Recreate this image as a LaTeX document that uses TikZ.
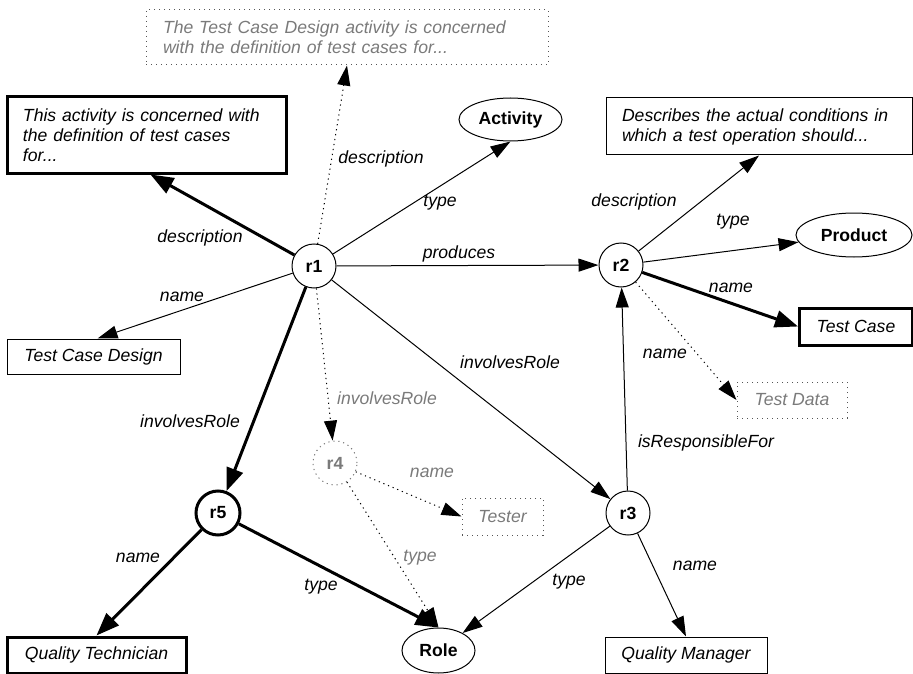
\documentclass[tikz,border=0pt]{standalone}
\usepackage{fontspec}
\setmainfont{Liberation Sans}
\usetikzlibrary{arrows.meta,shapes.geometric,calc}
\definecolor{ghost}{HTML}{7A7A7A}
\begin{document}
\begin{tikzpicture}[x=1pt,y=-1pt,
  every node/.style={font=\fontsize{17.6}{20}\selectfont},
  res/.style={circle,draw,line width=1pt,minimum size=44pt,inner sep=0pt,
    font=\fontsize{17.6}{20}\selectfont\bfseries},
  resthick/.style={res,line width=3pt},
  resghost/.style={res,draw=ghost,text=ghost,dash pattern=on 1.2pt off 3.8pt},
  cls/.style={ellipse,draw,line width=1pt,inner sep=0pt,
    font=\fontsize{17.6}{20}\selectfont\bfseries},
  lit/.style={rectangle,draw,line width=1pt,inner sep=0pt,
    font=\fontsize{17.6}{20}\selectfont\itshape},
  litthick/.style={lit,line width=3pt},
  litghost/.style={lit,draw=ghost!70!black,text=ghost,dash pattern=on 1.2pt off 3.8pt},
  rel/.style={draw,line width=1pt,-{Triangle[length=20pt,width=13pt]}},
  relthick/.style={draw,line width=3pt,-{Triangle[length=23pt,width=17pt]}},
  relghost/.style={rel,dash pattern=on 1.2pt off 3.8pt},
  lbl/.style={font=\fontsize{17.6}{20}\selectfont\itshape,inner sep=0pt},
  lblghost/.style={lbl,text=ghost}
]
\useasboundingbox (0,0) rectangle (913,674);

% resources
\node[res]      (r1) at (314,266) {r1};
\node[res]      (r2) at (621,265) {r2};
\node[res]      (r3) at (628,513) {r3};
\node[resghost] (r4) at (335,463) {r4};
\node[resthick] (r5) at (218,513) {r5};

% classes
\node[cls,minimum width=103pt,minimum height=43pt] (activity) at (510.5,119.5) {Activity};
\node[cls,minimum width=116pt,minimum height=44pt] (product)  at (854,235)     {Product};
\node[cls,minimum width=73pt,minimum height=45pt]  (role)     at (438.5,650.5) {Role};

% literals
\node[litghost,minimum width=402pt,minimum height=55pt,text width=368pt,align=left]
  (desc0) at (347,37.5) {The Test Case Design activity is concerned\\with the definition of test cases for...};
\node[litthick,minimum width=279pt,minimum height=76pt,text width=247pt,align=left]
  (desc1) at (146.5,135) {This activity is concerned with\\the definition of test cases\\for...};
\node[lit,minimum width=306pt,minimum height=57pt,text width=274pt,align=left]
  (desc2) at (759,126.5) {Describes the actual conditions in\\which a test operation should...};
\node[lit,minimum width=173pt,minimum height=35pt]      (tcd)    at (93.5,356.5) {Test Case Design};
\node[litthick,minimum width=113pt,minimum height=37pt] (tc)     at (856,326.5)  {Test Case};
\node[litghost,minimum width=110pt,minimum height=36pt] (td)     at (792,400)    {Test Data};
\node[litghost,minimum width=81pt,minimum height=37pt]  (tester) at (502.5,516.5){Tester};
\node[lit,minimum width=162pt,minimum height=36pt]      (qm)     at (686,655)    {Quality Manager};
\node[litthick,minimum width=179pt,minimum height=36pt] (qt)     at (96.5,655)   {Quality Technician};

% properties
\draw[relghost] (r1) -- (desc0.south);
\draw[relthick] (r1) -- ($(desc1.south)+(4,0)$);
\draw[rel]      (r1) -- (activity.south);
\draw[rel]      (r1) -- (r2);
\draw[rel]      (r1) -- ($(tcd.north)+(4,0)$);
\draw[relthick] (r1) -- (r5);
\draw[relghost] (r1) -- (r4);
\draw[rel]      (r1) -- (r3);
\draw[rel]      (r2) -- (desc2.south);
\draw[rel]      (r2) -- (product);
\draw[relthick] (r2) -- (tc.west);
\draw[relghost] (r2) -- (td.west);
\draw[rel]      (r3) -- (r2);
\draw[rel]      (r3) -- (role);
\draw[rel]      (r3) -- (qm.north);
\draw[relghost] (r4) -- (tester.west);
\draw[relghost] (r4) -- (role.north);
\draw[relthick] (r5) -- (qt.north);
\draw[relthick] (r5) -- (role.north);

% property labels
\node[lbl]      (l1)  at (381,159) {description};
\node[lbl]      (l2)  at (200,238) {description};
\node[lbl]      (l3)  at (440,203) {type};
\node[lbl]      (l4)  at (459,254) {produces};
\node[lbl]      (l5)  at (182,297) {name};
\node[lbl]      (l6)  at (190,421) {involvesRole};
\node[lblghost] (l7)  at (387,398) {involvesRole};
\node[lbl]      (l8)  at (510,362) {involvesRole};
\node[lbl]      (l9)  at (634,202) {description};
\node[lbl]      (l10) at (733,222) {type};
\node[lbl]      (l11) at (731,288) {name};
\node[lbl]      (l12) at (665,354) {name};
\node[lbl]      (l13) at (706,443) {isResponsibleFor};
\node[lbl]      (l14) at (569,582) {type};
\node[lbl]      (l15) at (695,566) {name};
\node[lblghost] (l16) at (432,473) {name};
\node[lblghost] (l17) at (420,558) {type};
\node[lbl]      (l18) at (138,558) {name};
\node[lbl]      (l19) at (321,587) {type};
\end{tikzpicture}
\end{document}
